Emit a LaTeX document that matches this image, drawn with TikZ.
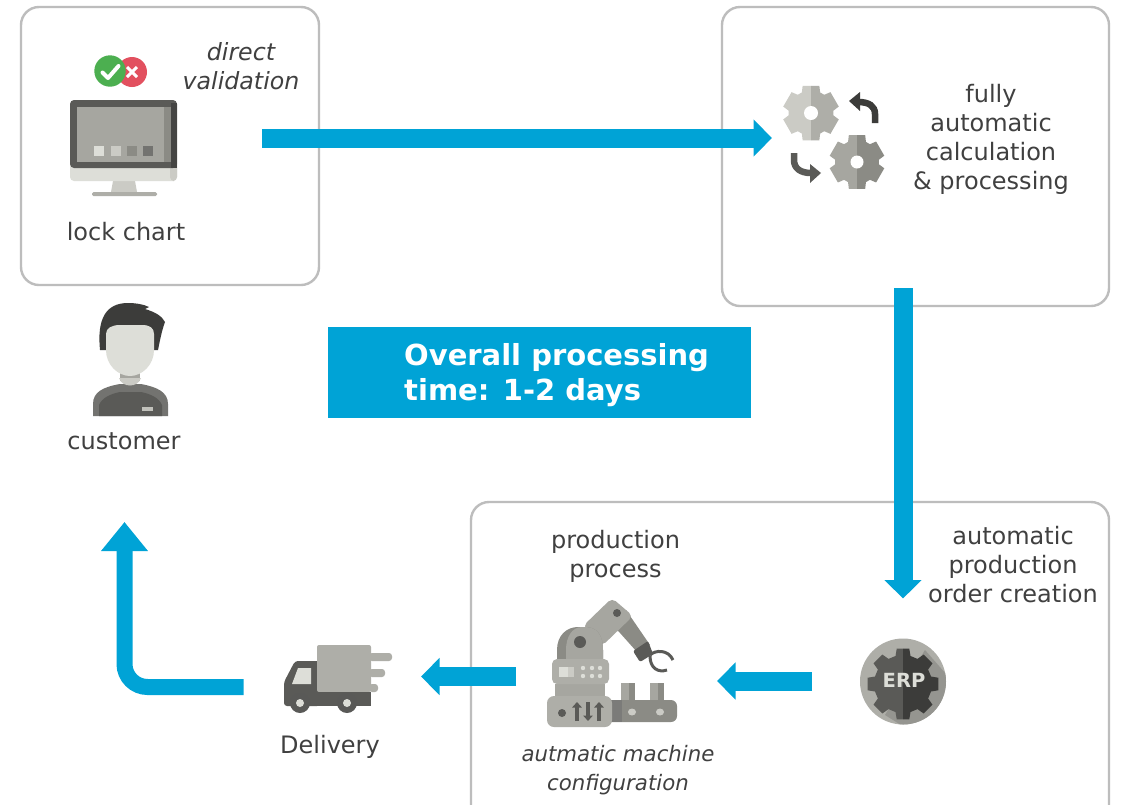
\documentclass[tikz,border=0pt]{standalone}
\usepackage{fontspec}
\setmainfont{DejaVu Sans}
\usetikzlibrary{arrows.meta}
\definecolor{flow}{HTML}{00A3D6}
\definecolor{frame}{HTML}{BDBDBD}
\definecolor{ink}{HTML}{404040}
\definecolor{gA}{HTML}{CBCBC5}
\definecolor{gB}{HTML}{AEAEA8}
\definecolor{gC}{HTML}{A6A6A0}
\definecolor{gD}{HTML}{8B8B85}
\definecolor{dk}{HTML}{5A5A57}
\definecolor{dkk}{HTML}{3C3C3A}
\definecolor{lt}{HTML}{DDDED8}
\definecolor{okg}{HTML}{4CAF50}
\definecolor{nok}{HTML}{E2505F}
\tikzset{
  panel/.style={draw=frame,line width=2.4pt,rounded corners=18pt},
  label/.style={text=ink,font=\fontsize{24}{29}\selectfont,align=center,inner sep=0pt},
  ilabel/.style={text=ink,font=\fontsize{23.7}{29}\selectfont\itshape,align=center,inner sep=0pt},
  slabel/.style={text=ink,font=\fontsize{21.3}{29}\selectfont\itshape,align=center,inner sep=0pt},
  flowline/.style={draw=flow,line width=19pt,-{Triangle[length=18.5pt,width=36pt]}},
  flowcorner/.style={draw=flow,line width=16pt,rounded corners=23pt,-{Triangle[length=29pt,width=45pt]}},
  updown/.style={draw=dk,line width=3.4pt,-{Triangle[length=5.5pt,width=9.5pt]}}
}
% #1 cx  #2 cy  #3 outer  #4 inner ; \cogn teeth, \cogo and \cogi half angles
\newcommand{\cogpath}[4]{%
  ([shift={(#1,#2)}]90-\cogi:#4)
  \foreach \k [evaluate=\k as \a using {90+\k*360/\cogn}] in \coglist{
    -- ([shift={(#1,#2)}]\a-\cogi:#4) -- ([shift={(#1,#2)}]\a-\cogo:#3) -- ([shift={(#1,#2)}]\a+\cogo:#3) -- ([shift={(#1,#2)}]\a+\cogi:#4)
  } -- cycle
}
\newcommand{\cog}[7]{%
  \begin{scope}
    \clip (#1-100,#2-100) rectangle (#1,#2+100);
    \fill[#6] \cogpath{#1}{#2}{#3}{#4};
  \end{scope}
  \begin{scope}
    \clip (#1,#2-100) rectangle (#1+100,#2+100);
    \fill[#7] \cogpath{#1}{#2}{#3}{#4};
  \end{scope}
  \fill[white] (#1,#2) circle (#5);
}
\begin{document}
\begin{tikzpicture}[x=1pt,y=-1pt]
\fill[white] (0,0) rectangle (1122,804);
\useasboundingbox (0,0) rectangle (1122,804);
\begin{scope}
\clip (0,0) rectangle (1122,804);
\draw[panel] (21,7) rectangle (319,285);
\draw[panel] (722,7) rectangle (1109,306);
\draw[panel] (471,502) rectangle (1109,830);
\end{scope}

% text
\node[ilabel] (direct) at (241,66) {direct\\validation};
\node[label] (lock) at (126,232) {lock chart};
\node[label] (fully) at (991,139.5) {fully\\automatic\\calculation\\\& processing};
\node[label] (cust) at (124,441) {customer};
\node[label] (prod) at (615.5,556) {production\\process};
\node[label] (order) at (1013,564.5) {automatic\\production\\order creation};
\node[slabel] (conf) at (618,770.5) {autmatic machine\\configuration};
\node[label] (deliv) at (330,746.5) {Delivery};

% banner
\fill[flow] (328,327) rectangle (751,418);
\node[text=white,font=\fontsize{29}{35}\selectfont\bfseries,align=left,anchor=west,inner sep=0pt] (banner) at (404,375.5) {Overall processing\\time: 1-2 days};

% connectors
\coordinate (a1) at (262,138);
\coordinate (a2) at (772,138);
\coordinate (b1) at (903,288);
\coordinate (b2) at (903,598.5);
\coordinate (c1) at (812,681);
\coordinate (c2) at (717,681);
\coordinate (d1) at (516,676.5);
\coordinate (d2) at (421,676.5);
\coordinate (e1) at (243.5,687);
\coordinate (e2) at (124.5,687);
\coordinate (e3) at (124.5,522);
\draw[flowline] (a1) -- (a2);
\draw[flowline] (b1) -- (b2);
\draw[flowline] (c1) -- (c2);
\draw[flowline] (d1) -- (d2);
\draw[flowcorner] (e1) -- (e2) -- (e3);

% monitor
\fill[gA] (113,181) -- (135,181) -- (137,192) -- (111,192) -- cycle;
\fill[gB,rounded corners=1.5pt] (92,192) rectangle (157,196);
\fill[lt,rounded corners=4pt] (70,160) rectangle (177,181);
\fill[gA,rounded corners=4pt] (170,160) rectangle (177,181);
\fill[dk,rounded corners=4pt] (70,100) -- (177,100) -- (177,168) -- (70,168) -- cycle;
\fill[dkk!70!dk] (171,103) rectangle (177,168);
\fill[gC] (77,107) rectangle (164,162);
\fill[gD] (164,107) rectangle (171,162);
\fill[lt] (94,146) rectangle (104,155.5);
\fill[gA] (111,146) rectangle (121,155.5);
\fill[gD] (127,146) rectangle (137,155.5);
\fill[dk!85!white] (143,146) rectangle (153,155.5);
% badges
\fill[nok] (132,72) circle (15);
\draw[white,line width=3pt] (127,67) -- (137,77) (137,67) -- (127,77);
\fill[okg] (110,71) circle (15.7);
\draw[white,line width=4pt,line cap=round,line join=round] (102.5,72.5) -- (108,78) -- (118.5,66);

% gears
\def\cogn{6}\def\coglist{0,...,5}\def\cogo{17}\def\cogi{24}
\cog{811}{113}{28.5}{22.5}{7}{gA}{gB}
\cog{857}{162}{28}{22}{6.5}{gC}{gD}
\draw[dkk,line width=6.5pt] (875,123) -- (875,114) .. controls (875,106) and (869,102) .. (858,102);
\fill[dkk] (849,101) -- (860,92) -- (860,111) -- cycle;
\draw[dk,line width=6.5pt] (794,153) -- (794,160) .. controls (794,168) and (800,173) .. (811,173);
\fill[dk] (821,173) -- (810,164) -- (810,183) -- cycle;

% customer
\fill[dk!85!white] (93,416) -- (93,404) .. controls (93,392) and (103,387) .. (120,384) -- (141,384) .. controls (157,387) and (168,392) .. (168,404) -- (168,416) -- cycle;
\fill[dk] (99,416) -- (99,405) .. controls (102,398) and (110,394) .. (120,392) -- (141,392) .. controls (151,394) and (159,398) .. (162,405) -- (162,416) -- cycle;
\fill[gC] (120,368) rectangle (140,381);
\fill[gA] (119,378) .. controls (122,388) and (138,388) .. (141,378) -- cycle;
\fill[dkk] (100,350) .. controls (97,320) and (105,303) .. (128,303) .. controls (135,303) and (143,304) .. (149,307) -- (145,309) .. controls (155,312) and (162,316) .. (165,322) .. controls (162,330) and (160,340) .. (158,350) -- cycle;
\fill[lt] (106,334) .. controls (106,328) and (112,325) .. (120,325) -- (142,325) .. controls (150,325) and (154,328) .. (154,334) -- (154,350) .. controls (154,365) and (142,376) .. (130,376) .. controls (118,376) and (106,365) .. (106,350) -- cycle;
\fill[gB!60!lt] (142,407) rectangle (153,411);

% truck
\fill[dk,rounded corners=3pt] (284,706) -- (284,682) -- (295,661) -- (320,661) -- (320,706) -- cycle;
\fill[lt] (292,684) -- (298,668) -- (311,668) -- (311,684) -- cycle;
\fill[gB,rounded corners=3pt] (369,653) rectangle (392,661);
\fill[gB,rounded corners=3pt] (369,669) rectangle (385,677);
\fill[gB,rounded corners=3pt] (369,684) rectangle (378,692);
\fill[gB,rounded corners=2pt] (317,645) rectangle (371,692);
\fill[dk] (317,692) rectangle (371,706);
\fill[dkk!85!white] (300,703) circle (10);
\fill[lt] (300,703) circle (4);
\fill[dkk!85!white] (347,703) circle (10);
\fill[lt] (347,703) circle (4);

% robot
\fill[gD] (612,624) -- (626,610) -- (650,645) -- (637,652) -- cycle;
\fill[gC,rounded corners=5pt] (612,598) -- (633,616) -- (602,646) -- (583,626) -- cycle;
\fill[dk] (617,613) circle (4);
\draw[dk,line width=3pt] (650,655) .. controls (655,650) and (668,649) .. (673,660);
\draw[dk,line width=3pt] (650,656) .. controls (650,668) and (658,673) .. (667,670);
\fill[dk,rounded corners=2pt] (633,651) -- (648,641) -- (653,654) -- (640,662) -- cycle;
\fill[gD] (557,700) -- (557,650) .. controls (557,635) and (567,627) .. (578,627) -- (585,627) .. controls (597,627) and (603,635) .. (603,650) -- (603,700) -- cycle;
\fill[gC] (566,700) -- (566,650) .. controls (566,637) and (572,627) .. (582,627) -- (585,627) .. controls (597,627) and (603,635) .. (603,650) -- (603,700) -- cycle;
\fill[dk] (580,642) circle (6);
\fill[gC] (555,684) rectangle (605,700);
\fill[gB,rounded corners=5pt] (552,659) rectangle (609,684);
\fill[lt] (559,667) rectangle (568,677);
\fill[gA] (568,667) rectangle (574,677);
\foreach \px in {583,592,600}{\fill[lt] (\px,668) circle (2.2);\fill[lt] (\px,676) circle (2.2);}
\fill[gD] (621,683) rectangle (635,702);
\fill[gC] (621,683) rectangle (629,702);
\fill[gD] (650,683) rectangle (664,702);
\fill[gC] (650,683) rectangle (658,702);
\fill[gD,rounded corners=6pt] (605,700) rectangle (677,722);
\fill[dk!80!white] (605,700) rectangle (622,722);
\fill[gA] (632,712) ellipse (4 and 3.5);
\fill[gA] (660,712) ellipse (4 and 3.5);
\fill[gB,rounded corners=7pt] (547,727) -- (547,696) -- (612,696) -- (612,727) -- cycle;
\fill[dk] (562,713) circle (4);
\draw[updown] (577,721) -- (577,702);
\draw[updown] (588,702) -- (588,721);
\draw[updown] (599,721) -- (599,702);

% ERP
\fill[gB] (903,681.5) circle (43);
\begin{scope}
\clip (903,681.5) circle (43);
\fill[gD!70!gB] (925,650) -- (960,690) -- (925,740) -- (885,715) -- cycle;
\end{scope}
\def\cogn{8}\def\coglist{0,...,7}\def\cogo{10}\def\cogi{15}
\cog{903}{684}{36}{29}{0}{dk}{dkk}
\node[text=lt,font=\fontsize{19.5}{22}\selectfont\bfseries,inner sep=0pt] (erp) at (904,680) {ERP};
\end{tikzpicture}
\end{document}
